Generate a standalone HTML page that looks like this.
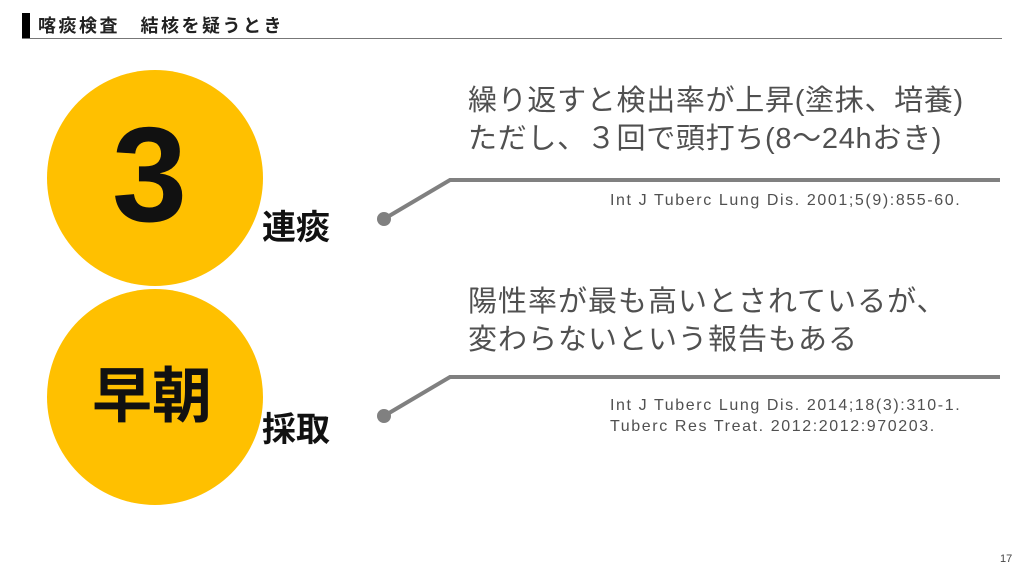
<!DOCTYPE html><html><head><meta charset="utf-8"><style>
body{margin:0;width:1024px;height:576px;background:#fff;position:relative;overflow:hidden;font-family:"Liberation Sans","Noto Sans CJK JP",sans-serif;}
.a{position:absolute;white-space:nowrap;}
</style></head><body>
<div class="a" style="left:22px;top:13px;width:8px;height:26px;background:#000"></div>
<div class="a" style="left:38px;top:12px;font-size:18px;font-weight:bold;color:#222;letter-spacing:2.5px;">喀痰検査　結核を疑うとき</div>
<div class="a" style="left:22px;top:38px;width:980px;height:1px;background:#777"></div>
<svg class="a" style="left:0;top:0" width="1024" height="576">
<circle cx="155" cy="178" r="108" fill="#FFC000"/>
<circle cx="155" cy="397" r="108" fill="#FFC000"/>
<polyline points="384,219 450,180 1000,180" fill="none" stroke="#808080" stroke-width="4"/>
<circle cx="384" cy="219" r="7" fill="#808080"/>
<polyline points="384,416 450,377 1000,377" fill="none" stroke="#808080" stroke-width="4"/>
<circle cx="384" cy="416" r="7" fill="#808080"/>
</svg>
<div class="a" style="left:112px;top:95px;font-size:135px;font-weight:bold;color:#111;line-height:160px;">3</div>
<div class="a" style="left:92px;top:362px;font-size:60px;font-weight:bold;color:#111;line-height:70px;">早朝</div>
<div class="a" style="left:262px;top:200px;font-size:34px;font-weight:bold;color:#111;">連痰</div>
<div class="a" style="left:262px;top:402px;font-size:34px;font-weight:bold;color:#111;">採取</div>
<div class="a" style="left:468px;top:82px;font-size:29px;color:#505050;line-height:38px;letter-spacing:0.7px;">繰り返すと検出率が上昇(塗抹、培養)<br>ただし、３回で頭打ち(8〜24hおき)</div>
<div class="a" style="left:610px;top:192px;font-size:16px;color:#505050;letter-spacing:1.6px;">Int J Tuberc Lung Dis. 2001;5(9):855-60.</div>
<div class="a" style="left:468px;top:283px;font-size:29px;color:#505050;line-height:38px;letter-spacing:1px;">陽性率が最も高いとされているが、<br>変わらないという報告もある</div>
<div class="a" style="left:610px;top:395px;font-size:16px;color:#505050;line-height:21px;letter-spacing:1.6px;">Int J Tuberc Lung Dis. 2014;18(3):310-1.<br>Tuberc Res Treat. 2012:2012:970203.</div>
<div class="a" style="left:1000px;top:553px;font-size:11px;color:#444;">17</div>
</body></html>
